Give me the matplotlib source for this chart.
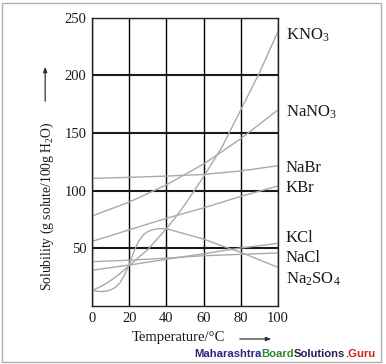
import numpy as np
import matplotlib
matplotlib.use('Agg')
import matplotlib.pyplot as plt
from matplotlib.patches import Rectangle, FancyArrowPatch

plt.rcParams['font.family'] = ['Liberation Serif', 'DejaVu Serif']
plt.rcParams['mathtext.default'] = 'regular'

# ------------------------------------------------------------
# Data (solubility, g solute / 100 g water)
# ------------------------------------------------------------
temp_kno3 = [0, 5, 10, 15, 20, 25, 30, 35, 40, 45, 50, 55, 60, 65, 70,
             75, 80, 85, 90, 95, 100]
kno3 = [13.5, 17, 22, 28, 35, 42, 49, 58, 67, 77, 88, 100, 112, 125, 138,
        154, 170, 186, 202, 220, 238]

temp_20 = [0, 20, 40, 60, 80, 100]
nano3 = [78, 90, 105, 123, 145, 170]
nabr = [110.6, 111.5, 112.6, 114, 117, 121.6]
kbr = [56, 66, 76, 85, 95, 104]
kcl = [31, 35.5, 40.5, 45.3, 50.3, 54.3]
nacl = [38.4, 39.7, 41.5, 43.6, 44.8, 46]

temp_na2so4 = [0, 2.5, 5, 7.5, 10, 12.5, 15, 17.5, 20, 22.5, 25, 27.5, 30,
               32.5, 35, 40, 50, 60, 70, 80, 90, 100]
na2so4 = [13.5, 12.8, 12.5, 12.8, 14, 16, 20, 27, 36, 47, 56, 61.5, 64.5,
          66, 67, 67, 62.5, 58, 52, 46.5, 40, 33.5]

names = ['KNO$_3$', 'NaNO$_3$', 'NaBr', 'KBr', 'KCl', 'NaCl', 'Na$_2$SO$_4$']
label_y = [230.5, 164, 116.4, 99, 55.7, 38.4, 19.7]

x_ticks = [0, 20, 40, 60, 80, 100]
y_ticks = [50, 100, 150, 200, 250]

# ------------------------------------------------------------
fig = plt.figure(figsize=(3.86, 3.64), dpi=100)
ax = fig.add_axes([0.2383, 0.1593, 0.4819, 0.7926])

curve_col = '#a9a9a9'
lw = 1.0
ax.plot(temp_kno3, kno3, color=curve_col, lw=lw)
ax.plot(temp_20, nano3, color=curve_col, lw=lw)
ax.plot(temp_20, nabr, color=curve_col, lw=lw)
ax.plot(temp_20, kbr, color=curve_col, lw=lw)
ax.plot(temp_20, kcl, color=curve_col, lw=lw)
ax.plot(temp_20, nacl, color=curve_col, lw=lw)
ax.plot(temp_na2so4, na2so4, color=curve_col, lw=lw)

ax.set_xlim(0, 100)
ax.set_ylim(0, 250)
ax.set_xticks(x_ticks)
ax.set_yticks(y_ticks)
ax.tick_params(length=0, labelsize=10.5, pad=4, colors='#1a1a1a')
ax.xaxis.grid(True, color='black', lw=1.0)
ax.yaxis.grid(True, color='#1a1a1a', lw=1.5)
ax.set_axisbelow(True)
for s in ax.spines.values():
    s.set_linewidth(1.0)
    s.set_color('#222222')

# compound labels to the right of the plot
for name, yv in zip(names, label_y):
    ax.text(104.3, yv, name, fontsize=12, va='baseline', ha='left',
            clip_on=False, color='#1a1a1a')

# axis titles with arrows
fig.text(0.122, 1 - 206.5 / 364, 'Solubility (g solute/100g H$_2$O)', rotation=90,
         fontsize=9.8, ha='center', va='center', color='#1a1a1a')
fig.patches.append(FancyArrowPatch(
    (0.117, 1 - 104 / 364), (0.117, 1 - 64 / 364), transform=fig.transFigure,
    arrowstyle='-|>,head_length=3,head_width=1.2', lw=0.9, color='#333333'))

fig.text(0.461, 1 - 338 / 364, 'Temperature/°C', fontsize=10.5,
         ha='center', va='center', color='#1a1a1a')
fig.patches.append(FancyArrowPatch(
    (237 / 386, 1 - 339 / 364), (274 / 386, 1 - 339 / 364), transform=fig.transFigure,
    arrowstyle='-|>,head_length=3,head_width=1.2', lw=0.9, color='#333333'))

# outer border
fig.patches.append(Rectangle((0.005, 0.006), 0.982, 0.986, transform=fig.transFigure,
                             fill=False, edgecolor='#b0b0b0', lw=1.0))

# watermark
parts = [('Maharashtra', '#3b1d7a'), ('Board', '#2c8a2c'),
         ('Solutions', '#2b1a55'), ('.Guru', '#d02020')]
renderer = fig.canvas.get_renderer()
xpos = 194 / 386
for txt, col in parts:
    t = fig.text(xpos, 1 - 357 / 364, txt, fontsize=8.1, fontweight='bold',
                 family='Liberation Sans', color=col, ha='left', va='baseline')
    bb = t.get_window_extent(renderer)
    xpos += bb.width / fig.bbox.width

fig.savefig('out.png', dpi=100)
